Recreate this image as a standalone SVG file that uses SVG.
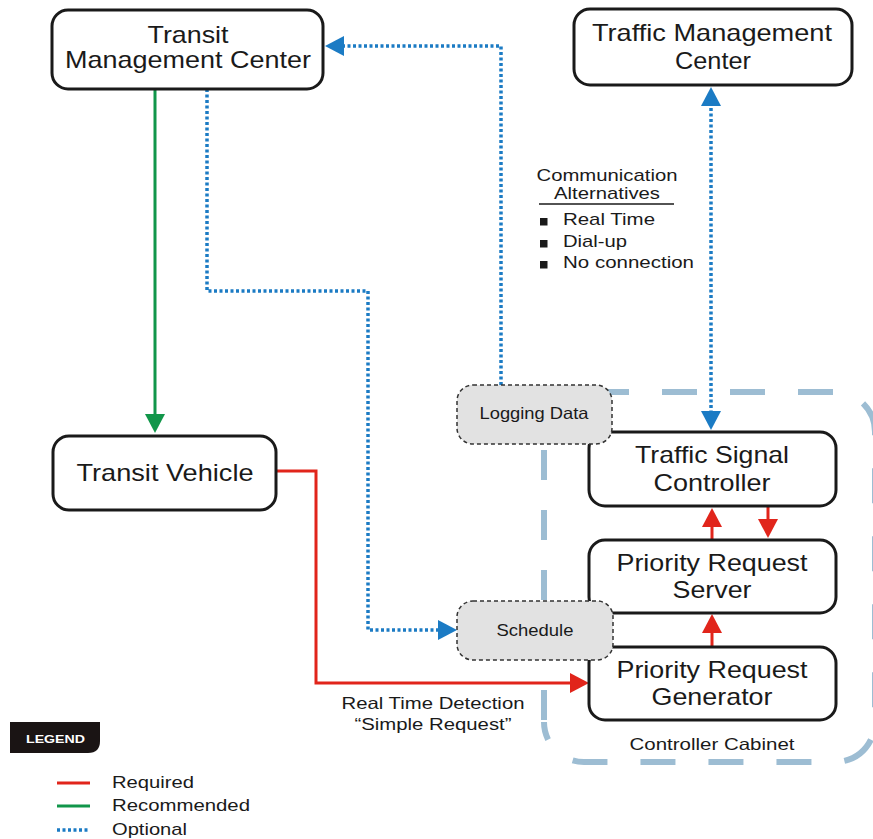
<svg xmlns="http://www.w3.org/2000/svg" width="873" height="839" viewBox="0 0 873 839">
<style>
text{font-family:"Liberation Sans",Arial,Helvetica,sans-serif;fill:#1a1a1a}
.big{font-size:24px}
.sm{font-size:16.5px}
.node{fill:#fff;stroke:#1a1a1a;stroke-width:3}
.soft{fill:#e2e2e2;stroke:#333;stroke-width:1.5;stroke-dasharray:4 3}
.req{fill:none;stroke:#e1251b;stroke-width:3}
.rec{fill:none;stroke:#11964a;stroke-width:3}
.opt{fill:none;stroke:#1b7bc4;stroke-width:3.5;stroke-dasharray:3 2.5}
.cab{fill:none;stroke:#9dbdd3;stroke-width:6}
</style>
<defs>
<marker id="aR" markerUnits="userSpaceOnUse" viewBox="0 0 19 20" markerWidth="19" markerHeight="20" refX="9" refY="10" orient="auto-start-reverse"><path d="M0,0 L19,10 L0,20 Z" fill="#e1251b"/></marker>
<marker id="aG" markerUnits="userSpaceOnUse" viewBox="0 0 19 20" markerWidth="19" markerHeight="20" refX="9" refY="10" orient="auto-start-reverse"><path d="M0,0 L19,10 L0,20 Z" fill="#11964a"/></marker>
<marker id="aB" markerUnits="userSpaceOnUse" viewBox="0 0 19 20" markerWidth="19" markerHeight="20" refX="9" refY="10" orient="auto-start-reverse"><path d="M0,0 L19,10 L0,20 Z" fill="#1b7bc4"/></marker>
</defs>

<g id="controller-cabinet">
<path class="cab" d="M544,392 H835 A40,40 0 0 1 875,432 V722 A40,40 0 0 1 835,762 H584 A40,40 0 0 1 544,722" stroke-dasharray="35 33" stroke-dashoffset="18"/>
<path class="cab" d="M544,720 V392" stroke-dasharray="30 30"/>
<text class="sm" x="712" y="750" text-anchor="middle" textLength="165" lengthAdjust="spacingAndGlyphs">Controller Cabinet</text>
</g>

<g id="connectors">
<path class="rec" d="M155,89 V423" marker-end="url(#aG)"/>
<path class="opt" d="M207,89 V291 H368 V630 H447" marker-end="url(#aB)"/>
<path class="opt" d="M501,385 V46 H335" marker-end="url(#aB)"/>
<path class="opt" d="M711,97 V420" marker-start="url(#aB)" marker-end="url(#aB)"/>
<path class="req" d="M277,471 H316 V683 H579" marker-end="url(#aR)"/>
<path class="req" d="M712,646 V624" marker-end="url(#aR)"/>
<path class="req" d="M712,540 V518" marker-end="url(#aR)"/>
<path class="req" d="M768,506 V528" marker-end="url(#aR)"/>
<text class="sm" x="433" y="709" text-anchor="middle" textLength="183" lengthAdjust="spacingAndGlyphs">Real Time Detection</text>
<text class="sm" x="433" y="730" text-anchor="middle" textLength="157" lengthAdjust="spacingAndGlyphs">“Simple Request”</text>
</g>

<g id="communication-alternatives">
<text x="607" y="181" font-size="17" text-anchor="middle" textLength="141" lengthAdjust="spacingAndGlyphs">Communication</text>
<text x="607" y="199" font-size="17" text-anchor="middle" textLength="106" lengthAdjust="spacingAndGlyphs">Alternatives</text>
<line x1="539" y1="204" x2="674" y2="204" stroke="#1a1a1a" stroke-width="1.5"/>
<rect x="540" y="218" width="7.5" height="7.5" fill="#1a1a1a"/>
<rect x="540" y="240" width="7.5" height="7.5" fill="#1a1a1a"/>
<rect x="540" y="261" width="7.5" height="7.5" fill="#1a1a1a"/>
<text x="563" y="225" font-size="17" textLength="92" lengthAdjust="spacingAndGlyphs">Real Time</text>
<text x="563" y="247" font-size="17" textLength="64" lengthAdjust="spacingAndGlyphs">Dial-up</text>
<text x="563" y="268" font-size="17" textLength="131" lengthAdjust="spacingAndGlyphs">No connection</text>
</g>

<g id="transit-management-center">
<rect class="node" x="52" y="10" width="271" height="79" rx="16"/>
<text class="big" x="188" y="43" text-anchor="middle" textLength="81" lengthAdjust="spacingAndGlyphs">Transit</text>
<text class="big" x="188" y="68" text-anchor="middle" textLength="246" lengthAdjust="spacingAndGlyphs">Management Center</text>
</g>

<g id="traffic-management-center">
<rect class="node" x="574" y="9" width="278" height="76" rx="16"/>
<text class="big" x="712" y="41" text-anchor="middle" textLength="240" lengthAdjust="spacingAndGlyphs">Traffic Management</text>
<text class="big" x="713" y="69" text-anchor="middle" textLength="76" lengthAdjust="spacingAndGlyphs">Center</text>
</g>

<g id="transit-vehicle">
<rect class="node" x="53" y="436" width="223" height="74" rx="16"/>
<text class="big" x="165" y="481" text-anchor="middle" textLength="177" lengthAdjust="spacingAndGlyphs">Transit Vehicle</text>
</g>

<g id="traffic-signal-controller">
<rect class="node" x="589" y="432" width="247" height="74" rx="16"/>
<text class="big" x="712" y="463" text-anchor="middle" textLength="154" lengthAdjust="spacingAndGlyphs">Traffic Signal</text>
<text class="big" x="712" y="491" text-anchor="middle" textLength="117" lengthAdjust="spacingAndGlyphs">Controller</text>
</g>

<g id="priority-request-server">
<rect class="node" x="589" y="540" width="247" height="73" rx="16"/>
<text class="big" x="712" y="571" text-anchor="middle" textLength="191" lengthAdjust="spacingAndGlyphs">Priority Request</text>
<text class="big" x="712" y="598" text-anchor="middle" textLength="79" lengthAdjust="spacingAndGlyphs">Server</text>
</g>

<g id="priority-request-generator">
<rect class="node" x="589" y="647" width="247" height="73" rx="16"/>
<text class="big" x="712" y="678" text-anchor="middle" textLength="191" lengthAdjust="spacingAndGlyphs">Priority Request</text>
<text class="big" x="712" y="705" text-anchor="middle" textLength="121" lengthAdjust="spacingAndGlyphs">Generator</text>
</g>

<g id="logging-data">
<rect class="soft" x="457" y="385" width="155" height="59" rx="16"/>
<text x="534" y="419" font-size="16.5" text-anchor="middle" textLength="109" lengthAdjust="spacingAndGlyphs">Logging Data</text>
</g>

<g id="schedule">
<rect class="soft" x="457" y="601" width="156" height="59" rx="16"/>
<text x="535" y="636" font-size="16.5" text-anchor="middle" textLength="77" lengthAdjust="spacingAndGlyphs">Schedule</text>
</g>

<g id="legend">
<path d="M10,722 H100 V741 Q100,753 88,753 H10 Z" fill="#1a1414"/>
<text x="26" y="743" font-size="11.5" font-weight="bold" style="fill:#fff" textLength="59" lengthAdjust="spacingAndGlyphs">LEGEND</text>
<line x1="57" y1="783" x2="90" y2="783" class="req"/>
<line x1="57" y1="806" x2="90" y2="806" class="rec"/>
<line x1="57" y1="830" x2="90" y2="830" class="opt"/>
<text x="112" y="788" font-size="17" textLength="82" lengthAdjust="spacingAndGlyphs">Required</text>
<text x="112" y="811" font-size="17" textLength="138" lengthAdjust="spacingAndGlyphs">Recommended</text>
<text x="112" y="835" font-size="17" textLength="75" lengthAdjust="spacingAndGlyphs">Optional</text>
</g>
</svg>
